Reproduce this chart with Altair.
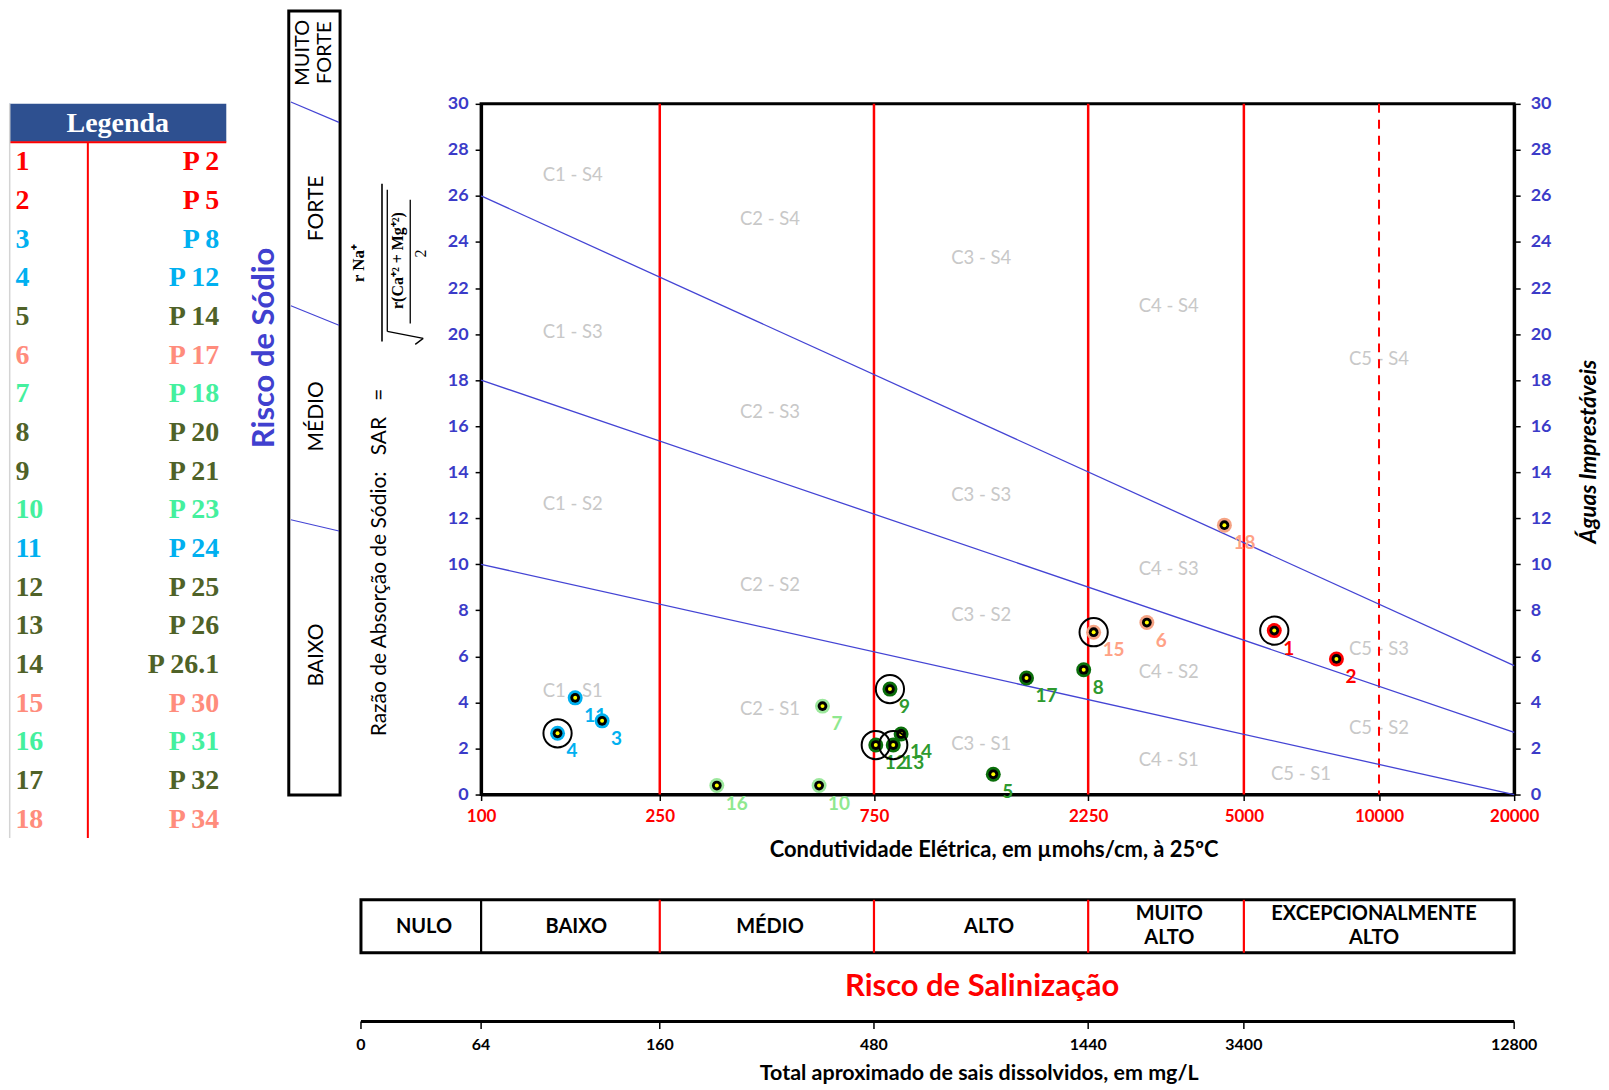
import altair as alt
import pandas as pd

W, H = 1035, 692

# ---------------- data ----------------
sample_num = [str(i) for i in range(1, 19)]
sample_name = ["P 2", "P 5", "P 8", "P 12", "P 14", "P 17", "P 18", "P 20", "P 21",
               "P 23", "P 24", "P 25", "P 26", "P 26.1", "P 30", "P 31", "P 32", "P 34"]
sample_ce = [5844, 8038, 186, 148, 1383, 3040, 576, 2199, 814,
             566, 162, 757, 828, 862, 2314, 335, 1640, 4525]
sample_sar = [7.12, 5.89, 3.20, 2.66, 0.88, 7.47, 3.84, 5.42, 4.58,
              0.39, 4.20, 2.15, 2.15, 2.63, 7.05, 0.39, 5.06, 11.70]
sample_group = ["red", "red", "blue", "blue", "green", "salmon", "light", "green", "green",
                "light", "blue", "green", "green", "green", "salmon", "light", "green", "salmon"]
sample_circled = [1, 0, 0, 1, 0, 0, 0, 0, 1, 0, 0, 1, 1, 0, 1, 0, 0, 0]

group_names = ["red", "blue", "green", "salmon", "light"]
group_halo = ["#FF0000", "#00B0F0", "#0A6E0A", "#F5A384", "#9DE89D"]
group_label = ["#FF0000", "#00B0F0", "#2E9A2E", "#FFA286", "#8FE88F"]
group_legend = ["#FF0000", "#00B0F0", "#4F6228", "#FF8C7C", "#44F09E"]

class_bounds = [250, 750, 2250, 5000]
dashed_bounds = [10000]

line_id = ["a", "a", "b", "b", "c", "c"]
line_ce = [100, 20000, 100, 20000, 100, 20000]
line_sar = [10, 0, 18, 2.7, 26, 5.6]

zone_label = ["C1 - S4", "C2 - S4", "C3 - S4", "C4 - S4", "C5 - S4",
              "C1 - S3", "C2 - S3", "C3 - S3", "C4 - S3", "C5 - S3",
              "C1 - S2", "C2 - S2", "C3 - S2", "C4 - S2", "C5 - S2",
              "C1 - S1", "C2 - S1", "C3 - S1", "C4 - S1", "C5 - S1"]
zone_ce = [160, 440, 1300, 3400, 10000,
           160, 440, 1300, 3400, 10000,
           160, 440, 1300, 3400, 10000,
           160, 440, 1300, 3400, 6700]
zone_sar = [26.9, 25.0, 23.3, 21.2, 18.9,
            20.1, 16.6, 13.0, 9.8, 6.3,
            12.6, 9.1, 7.8, 5.3, 2.9,
            4.5, 3.7, 2.2, 1.5, 0.9]

x_ticks = [100, 250, 750, 2250, 5000, 10000, 20000]
y_ticks = list(range(0, 31, 2))

sal_text = ["NULO", "BAIXO", "MÉDIO", "ALTO", "MUITO\nALTO", "EXCEPCIONALMENTE\nALTO"]
sal_ce = [74.6, 163, 440, 1354, 3412, 9747]
sal_div_ce = [100, 250, 750, 2250, 5000]
sal_div_color = ["#000000", "#FF0000", "#FF0000", "#FF0000", "#FF0000"]
sal_extent = [54, 20000]

tds_labels = ["0", "64", "160", "480", "1440", "3400", "12800"]
tds_ce = [54, 100, 250, 750, 2250, 5000, 20000]

sodium_levels = ["BAIXO", "MÉDIO", "FORTE"]

# ---------------- frames ----------------
gmap = {g: i for i, g in enumerate(group_names)}
pts_df = pd.DataFrame({
    "num": sample_num, "ce": sample_ce, "sar": sample_sar,
    "halo": [group_halo[gmap[g]] for g in sample_group],
    "lab": [group_label[gmap[g]] for g in sample_group],
    "circled": sample_circled,
})
lines_df = pd.DataFrame({"id": line_id, "ce": line_ce, "sar": line_sar})
zone_df = pd.DataFrame({"t": zone_label, "ce": zone_ce, "sar": zone_sar})
sal_df = pd.DataFrame({"t": sal_text, "ce": sal_ce,
                       "two": [1 if "\n" in t else 0 for t in sal_text]})
one = pd.DataFrame({"k": [0]})

SANS = "Lato"
SERIF = "Liberation Serif"

xs = alt.Scale(type="log", domain=[100, 20000], nice=False)
ys = alt.Scale(domain=[0, 30], nice=False, zero=False)

xaxis = alt.Axis(values=x_ticks, format="d", labelColor="#FF0000", labelFont=SANS,
                 labelFontSize=17, labelFontWeight="bold", tickColor="black", tickSize=6,
                 tickWidth=1.5, domainColor="black", domainWidth=3, grid=False, title=None,
                 labelPadding=8, labelFlush=False)
yaxis_l = alt.Axis(values=y_ticks, orient="left", labelColor="#3B3BC8", labelFont=SANS,
                   labelFontSize=18, labelFontWeight="bold", tickColor="black", tickSize=6,
                   tickWidth=1.5, domainColor="black", domainWidth=3, grid=False, title=None,
                   labelPadding=7, labelFlush=False)
yaxis_r = alt.Axis(values=y_ticks, orient="right", labelColor="#3B3BC8", labelFont=SANS,
                   labelFontSize=18, labelFontWeight="bold", tickColor="black", tickSize=6,
                   tickWidth=1.5, domainColor="black", domainWidth=3, grid=False, title=None,
                   labelPadding=10, labelFlush=False)


def XF(f, axis=None):
    return alt.X(f, type="quantitative", scale=xs, axis=axis)


def YF(f, axis=None):
    return alt.Y(f, type="quantitative", scale=ys, axis=axis)


def txt(text, x, y, size=16, font=SANS, weight="normal", color="black", angle=0,
        align="center", baseline="middle", style="normal"):
    return alt.Chart(one).mark_text(
        text=text, fontSize=size, font=font, fontWeight=weight, color=color, angle=angle,
        align=align, baseline=baseline, fontStyle=style
    ).encode(x=alt.value(x), y=alt.value(y))


def seg(x1, y1, x2, y2, color="black", w=1.0, dash=None):
    kw = dict(color=color, strokeWidth=w)
    if dash:
        kw["strokeDash"] = dash
    return alt.Chart(one).mark_rule(**kw).encode(
        x=alt.value(x1), y=alt.value(y1), x2=alt.value(x2), y2=alt.value(y2))


def rect(x1, y1, x2, y2, fill="#ffffff", fop=1.0, stroke=None, w=0):
    kw = dict(fill=fill, fillOpacity=fop)
    if stroke:
        kw.update(stroke=stroke, strokeWidth=w)
    return alt.Chart(one).mark_rect(**kw).encode(
        x=alt.value(x1), y=alt.value(y1), x2=alt.value(x2), y2=alt.value(y2))


layers = []

# zone labels
layers.append(alt.Chart(zone_df).mark_text(font=SANS, fontSize=18.5, color="#C8C8C8").encode(
    x=XF("ce"), y=YF("sar"), text="t:N"))

# class boundaries
layers.append(alt.Chart(pd.DataFrame({"ce": class_bounds})).mark_rule(
    color="#FF0000", strokeWidth=2.5).encode(x=XF("ce")))
layers.append(alt.Chart(pd.DataFrame({"ce": dashed_bounds})).mark_rule(
    color="#FF0000", strokeWidth=2, strokeDash=[9, 7]).encode(x=XF("ce")))

# sodium hazard lines (carry the right axis)
layers.append(alt.Chart(lines_df).mark_line(color="#4444D4", strokeWidth=1.3).encode(
    x=XF("ce"), y=YF("sar", yaxis_r), detail="id:N"))

# point labels
layers.append(alt.Chart(pts_df).mark_text(
    align="left", baseline="middle", dx=9, dy=18, font=SANS, fontSize=19,
    fontWeight="bold").encode(
    x=XF("ce"), y=YF("sar"), text="num:N", color=alt.Color("lab:N", scale=None)))

# points
layers.append(alt.Chart(pts_df).mark_circle(size=225, opacity=1).encode(
    x=XF("ce", xaxis), y=YF("sar", yaxis_l), color=alt.Color("halo:N", scale=None)))
layers.append(alt.Chart(pts_df).mark_circle(size=95, opacity=1, color="black").encode(
    x=XF("ce"), y=YF("sar")))
layers.append(alt.Chart(pts_df).mark_circle(size=16, opacity=1, color="#FFFF00").encode(
    x=XF("ce"), y=YF("sar")))
layers.append(alt.Chart(pts_df).transform_filter("datum.circled == 1").mark_point(
    shape="circle", size=800, filled=False, stroke="black", strokeWidth=2, opacity=1).encode(
    x=XF("ce"), y=YF("sar")))

# ---------- axis titles ----------
layers.append(txt("Condutividade Elétrica, em µmohs/cm, à 25ºC", 514, 747.5, size=22, weight="bold"))
layers.append(txt("Águas Imprestáveis", 1110, 348.5, size=22.5, weight="bold", angle=270, style="italic"))
layers.append(txt("Razão de Absorção de Sódio:\u00a0\u00a0\u00a0SAR\u00a0\u00a0\u00a0=", -101, 459.5,
                  size=21, angle=270))
# SAR formula
layers.append(txt("r Na⁺", -122, 159.5, size=17, font=SERIF, weight="bold", angle=270))
layers.append(seg(-99.3, 80, -99.3, 238, w=1.6))
layers.append(seg(-94, 86, -94, 228, w=1.3))
layers.append(seg(-94, 228, -58, 235, w=1.3))
layers.append(seg(-58, 235, -66, 241, w=1.3))
layers.append(txt("r(Ca⁺² + Mg⁺²)", -83, 157, size=16, font=SERIF, weight="bold", angle=270))
layers.append(seg(-71, 96, -71, 220, w=1.3))
layers.append(txt("2", -60, 150, size=16, font=SERIF, angle=270))

# ---------- sodium risk box ----------
layers.append(txt("Risco de Sódio", -217, 244.5, size=31, weight="bold", color="#4040CF", angle=270))
layers.append(rect(-192.7, -93, -141.3, 692.5, fill="#ffffff", fop=0, stroke="black", w=3))
layers.append(seg(-190.6, -1.9, -142.4, 18.6, color="#4444D4", w=1.2))
layers.append(seg(-190.6, 202.3, -142.4, 221.8, color="#4444D4", w=1.2))
layers.append(seg(-190.6, 416.7, -142.4, 428, color="#4444D4", w=1.2))
layers.append(txt("MUITO", -178.5, -51.2, size=20, angle=270))
layers.append(txt("FORTE", -156, -51.2, size=20, angle=270))
for lvl, yy in zip(reversed(sodium_levels), [104.8, 313.1, 552.2]):
    layers.append(txt(lvl, -164, yy, size=21, angle=270))

# ---------- legend table ----------
layers.append(rect(-472.8, 0, -255.3, 38, fill="#2E5090"))
layers.append(txt("Legenda", -364, 20, size=28, font=SERIF, weight="bold", color="white"))
layers.append(seg(-472.8, 38.5, -255.3, 38.5, color="#FF0000", w=2))
layers.append(seg(-394, 38.5, -394, 735.5, color="#FF0000", w=2))
layers.append(seg(-472.3, 0, -472.3, 735.5, color="#D4D4D4", w=1.5))
for i, (n, nm, g) in enumerate(zip(sample_num, sample_name, sample_group)):
    yy = 58.6 + i * 38.75
    c = group_legend[gmap[g]]
    layers.append(txt(n, -466.6, yy, size=28, font=SERIF, weight="bold", color=c, align="left"))
    layers.append(txt(nm, -262.4, yy, size=28, font=SERIF, weight="bold", color=c, align="right"))

# ---------- salinity table ----------
layers.append(alt.Chart(pd.DataFrame({"a": [sal_extent[0]], "b": [sal_extent[1]]})).mark_rect(
    fillOpacity=0, fill="#ffffff", stroke="black", strokeWidth=3).encode(
    x=XF("a"), x2="b:Q", y=alt.value(797.5), y2=alt.value(850.5)))
layers.append(alt.Chart(pd.DataFrame({"ce": sal_div_ce, "c": sal_div_color})).mark_rule(
    strokeWidth=2.2).encode(x=XF("ce"), y=alt.value(797.5), y2=alt.value(850.5),
                            color=alt.Color("c:N", scale=None)))
layers.append(alt.Chart(sal_df).transform_filter("datum.two == 0").mark_text(
    font=SANS, fontSize=20, fontWeight="bold", baseline="middle").encode(
    x=XF("ce"), y=alt.value(825), text="t:N"))
layers.append(alt.Chart(sal_df).transform_filter("datum.two == 1").mark_text(
    font=SANS, fontSize=20, fontWeight="bold", lineBreak="\n", lineHeight=23.5,
    baseline="middle").encode(x=XF("ce"), y=alt.value(812), text="t:N"))
layers.append(txt("Risco de Salinização", 502, 884.5, size=31, weight="bold", color="#FF0000"))

# ---------- TDS axis ----------
layers.append(alt.Chart(pd.DataFrame({"a": [tds_ce[0]], "b": [tds_ce[-1]]})).mark_rule(
    color="black", strokeWidth=3).encode(x=XF("a"), x2="b:Q", y=alt.value(919.5)))
tds_df = pd.DataFrame({"ce": tds_ce, "t": tds_labels})
layers.append(alt.Chart(tds_df).mark_rule(color="black", strokeWidth=1.5).encode(
    x=XF("ce"), y=alt.value(919.5), y2=alt.value(927)))
layers.append(alt.Chart(tds_df).mark_text(font=SANS, fontSize=16, fontWeight="bold").encode(
    x=XF("ce"), y=alt.value(942.5), text="t:N"))
layers.append(txt("Total aproximado de sais dissolvidos, em mg/L", 499, 972.5, size=21.5, weight="bold"))

chart = alt.layer(*layers).resolve_axis(x="independent", y="independent").properties(
    width=W, height=H, padding=0, background="white"
).configure_view(stroke="black", strokeWidth=3)

chart.save("out.html", embed_options={"renderer": "svg", "actions": False})
